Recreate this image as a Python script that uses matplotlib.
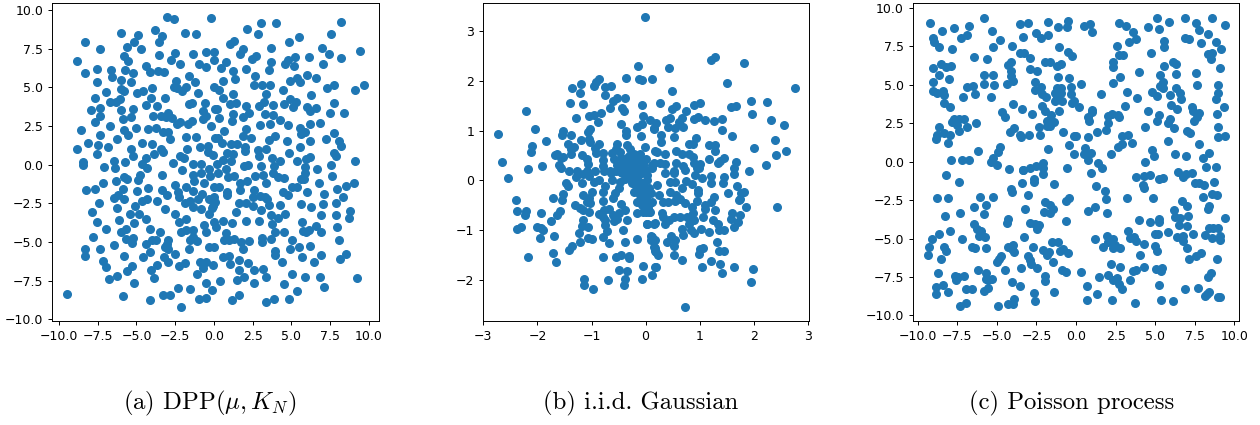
import matplotlib
matplotlib.use('Agg')
import matplotlib.pyplot as plt

# values
dpp_points = [
    (-3.03,9.53),(-2.56,9.40),(-0.22,9.46),(-6.0,8.53),(-4.9,8.36),(-3.83,8.71),(-3.33,8.30),(-3.55,7.93),
    (-1.85,8.49),(-1.16,8.45),(-8.34,7.97),(-5.14,7.91),(-5.59,7.61),(-7.33,7.48),(-4.69,7.46),(-8.82,6.72),
    (-5.81,7.03),(-5.53,6.72),(-3.53,7.13),(-2.54,7.22),(-1.33,7.18),(-0.54,7.31),(-0.02,7.31),(-2.75,6.75),
    (-2.19,6.53),(-0.95,6.53),(-0.52,6.34),(-0.02,6.75),(-4.39,6.40),(-8.34,5.95),(-7.53,6.19),(-6.62,6.10),
    (-6.58,5.65),(-5.72,6.10),(-5.25,5.95),(-4.11,5.99),(-3.59,6.08),(-3.23,6.03),(-1.63,5.75),(-6.0,5.47),
    (-7.57,5.32),(-5.35,5.37),(-2.43,5.41),(-1.25,5.37),(-2.58,5.06),(-1.81,5.04),(-0.02,5.04),(-2.37,4.94),
    (-2.04,4.78),(-6.99,4.72),(-5.98,4.89),(-5.81,4.78),(-4.58,4.78),(-4.95,4.63),(-4.0,4.96),(-1.03,4.61),
    (-7.70,4.35),(-4.06,4.31),(-3.14,4.35),(-6.73,4.09),(-6.32,4.09),(-6.04,4.27),(-1.63,3.94),(-1.4,3.97),
    (-0.58,3.97),(-4.41,3.88),(-3.68,3.77),(-7.33,3.69),(-7.94,3.51),(-6.0,3.51),(-5.2,3.6),(-0.71,3.45),
    (0.06,3.62),(-7.33,3.17),(-3.94,3.17),(-3.44,3.17),(-2.97,3.38),(-3.1,3.10),(-2.69,3.04),(-0.52,3.17),
    (-0.71,2.97),(-5.85,2.97),(-5.38,3.06),(-7.68,2.76),(-2.19,2.74),(-2.39,2.63),(-1.4,2.82),(-1.66,2.63),
    (-6.71,2.5),(-0.19,2.5),(-8.58,2.26),(-5.81,2.28),(-5.01,2.39),(-4.26,2.31),(-3.74,2.35),(-5.53,1.94),
    (-7.35,1.94),(-3.31,2.11),(-2.95,2.09),(-2.84,1.64),(-6.24,1.66),(-1.81,1.79),(-1.16,1.77),(0.06,1.72),
    (-8.11,1.42),(-7.51,1.31),(-6.84,1.16),(-4.65,1.40),(-3.98,1.36),(-8.82,0.99),(-5.38,1.01),(-3.44,1.01),
    (-3.27,0.82),(-1.76,1.03),(-0.92,1.12),(-0.41,1.21),(-0.37,0.84),(-0.09,0.63),(-5.25,0.56),(-7.55,0.67),
    (-4.37,0.43),(-3.87,0.69),(-2.19,0.54),(-1.91,0.43),(-8.47,0.15),(-8.45,-0.02),(-6.47,0.22),(-5.76,0.15),
    (-7.08,-0.13),(-4.65,0.06),(-2.67,0.11),(-1.33,0.04),(-0.82,0.04),(-6.38,-0.24),(-4.3,-0.24),(-2.09,-0.34),
    (-0.3,-0.3),(-4.8,-0.65),(-3.35,-0.65),(-1.33,-0.65),(-0.86,-0.52),(-0.26,-0.73),(-5.81,-0.82),(-5.64,-0.93),
    (-4.93,-0.99),(-6.32,-1.03),(-7.14,-1.21),(-1.27,-1.03),(-0.65,-1.16),(-2.54,-1.29),(-1.78,-1.44),(-4.24,-1.47),
    (-8.24,-1.64),(-7.66,-1.57),(-5.89,-1.57),(-4.97,-1.68),(-3.35,-1.64),(-1.33,-1.68),(-2.3,-1.79),(-3.05,-1.98),
    (-6.17,-1.96),(-0.75,-1.9),(-6.45,-2.13),(-5.78,-2.24),(-2.28,-2.11),(-4.65,-2.33),(-4.32,-2.22),(-0.32,-2.18),
    (-0.04,-2.28),(-7.42,-2.44),(-3.7,-2.37),(-1.85,-2.44),(-1.55,-2.37),(-1.38,-2.72),(-1.01,-2.24),(-5.12,-2.67),
    (-6.28,-2.82),(-3.14,-2.87),(-0.82,-2.89),(-0.04,-2.67),(-0.32,-3.15),(-7.89,-3.04),(-5.42,-3.17),(-4.82,-3.17),
    (-2.49,-3.19),(-4.37,-3.51),(-6.11,-3.58),(-1.78,-3.53),(-2.28,-3.71),(-7.53,-3.73),(-5.14,-3.75),(-0.67,-3.92),
    (-6.97,-4.12),(-5.67,-4.12),(-5.99,-4.33),(-4.13,-4.16),(-3.47,-4.33),(-2.11,-4.33),(-1.83,-4.22),(-1.33,-4.22),
    (-0.54,-4.35),(-7.78,-4.68),(-5.67,-4.81),(-5.2,-4.76),(-5.31,-5.04),(-4.02,-4.87),(-3.76,-4.87),(-2.95,-4.87),
    (-1.33,-4.7),(-1.55,-4.89),(-1.08,-4.94),(-6.45,-5.17),(-4.39,-5.13),(-3.02,-5.13),(-3.17,-5.34),(-2.95,-5.45),
    (-8.3,-5.43),(-7.33,-5.43),(-1.6,-5.43),(-0.32,-5.3),(0.0,-5.34),(-4.13,-5.63),(-2.54,-5.78),(-8.32,-5.9),
    (-5.81,-5.9),(-4.6,-5.99),(-3.2,-5.97),(-7.14,-6.23),(-2.97,-6.29),(-3.7,-6.47),(-2.24,-6.53),(-1.89,-6.38),
    (-6.99,-6.62),(-5.31,-6.53),(-0.9,-6.29),(-0.54,-6.27),(-0.71,-6.66),(-0.09,-6.49),(-4.09,-6.83),(-5.64,-6.87),
    (-1.08,-7.05),(-6.77,-7.37),(-6.24,-7.2),(-3.87,-7.31),(-5.14,-7.65),(-0.52,-7.65),(-2.34,-7.95),(-1.55,-8.04),
    (-0.11,-8.08),(-9.46,-8.34),(-5.85,-8.47),(-3.27,-8.45),(-2.84,-8.43),(-4.13,-8.73),(-0.99,-8.66),(-0.52,-8.64),
    (-2.15,-9.2),
    (3.01,9.16),(3.98,9.16),(8.17,9.25),(2.13,8.77),(2.82,8.47),(7.53,8.43),(5.48,8.28),(4.82,7.93),
    (1.31,8.02),(1.05,7.78),(9.42,7.37),(6.99,7.52),(7.42,7.18),(3.7,7.52),(1.89,7.46),(1.66,7.16),
    (2.71,7.05),(2.45,6.81),(5.23,6.98),(6.13,6.94),(8.17,6.92),(4.8,6.77),(4.56,6.49),(3.68,6.62),
    (5.18,6.38),(7.05,6.49),(0.8,6.62),(0.43,6.27),(1.23,6.08),(2.09,6.19),(3.57,6.1),(2.67,5.71),
    (1.38,5.56),(5.98,5.82),(5.35,5.63),(6.6,5.63),(4.9,5.41),(5.57,5.32),(0.6,5.41),(2.56,5.13),
    (3.12,5.13),(3.63,5.13),(0.32,4.83),(7.72,5.19),(7.29,4.96),(9.7,5.19),(9.12,4.83),(4.45,4.81),
    (1.23,4.57),(3.38,4.59),(6.24,4.5),(0.58,4.31),(3.2,4.09),(4.88,4.25),(5.27,4.07),(7.76,4.01),
    (4.54,3.9),(1.05,3.94),(1.44,3.97),(2.04,3.79),(2.9,3.77),(3.83,3.84),(5.12,3.71),(6.0,3.71),
    (6.22,3.47),(6.6,3.69),(0.22,3.62),(7.5,3.38),(8.41,3.32),(1.2,3.28),(2.28,3.34),(3.31,3.3),
    (3.83,3.25),(0.32,3.04),(1.85,3.08),(1.18,2.84),(4.26,2.89),(2.97,2.54),(3.63,2.63),(4.77,2.54),
    (6.17,2.63),(6.82,2.69),(2.06,2.33),(5.55,2.41),(0.65,2.2),(5.61,1.98),(5.87,2.11),(7.72,2.03),
    (1.85,1.85),(2.37,1.72),(3.91,1.85),(3.57,1.62),(7.2,1.66),(0.28,1.72),(0.54,1.44),(4.69,1.53),
    (6.19,1.53),(8.06,1.53),(8.17,1.19),(1.1,1.34),(1.51,1.34),(2.02,1.14),(2.02,0.88),(2.82,0.97),
    (3.33,1.03),(5.57,1.12),(0.82,0.73),(1.23,0.71),(2.92,0.56),(4.82,0.73),(7.76,0.75),(7.89,0.56),
    (0.6,0.32),(1.1,0.24),(0.17,0.06),(3.76,0.43),(4.28,0.26),(5.33,0.24),(5.92,0.39),(6.17,0.5),
    (9.08,0.22),(7.57,-0.02),(1.96,-0.09),(2.17,-0.04),(3.03,-0.06),(3.85,-0.11),(5.87,-0.13),(6.65,-0.26),
    (0.77,-0.3),
    (0.24,-0.56),(0.88,-0.78),(1.31,-0.73),(2.67,-0.73),(3.18,-0.69),(3.83,-0.52),(4.15,-0.82),(4.54,-0.84),
    (5.87,-0.56),(5.61,-0.93),(5.8,-0.91),(7.59,-0.71),(2.15,-1.06),(3.35,-1.16),(1.68,-1.16),(6.77,-1.19),
    (9.03,-1.16),(8.49,-1.38),(5.05,-1.42),(5.35,-1.42),(7.91,-1.55),(0.02,-1.42),(0.32,-1.42),(1.66,-1.64),
    (2.58,-1.62),(4.47,-1.79),(4.8,-1.94),(6.02,-1.79),(7.1,-1.9),(0.82,-1.79),(0.82,-1.96),(0.02,-2.09),
    (2.54,-2.11),(2.97,-2.03),(3.29,-2.07),(8.34,-2.11),(0.06,-2.39),(3.44,-2.18),(1.63,-2.44),(2.04,-2.5),
    (2.49,-2.67),(3.55,-2.61),(4.26,-2.61),(5.61,-2.54),(7.01,-2.56),(7.87,-2.46),(6.26,-2.74),(-0.11,-2.78),
    (3.03,-2.91),(1.42,-3.04),(4.6,-3.19),(3.66,-3.25),(4.15,-3.41),(6.9,-3.23),(7.89,-3.25),(8.8,-3.02),
    (8.69,-3.41),(0.6,-3.62),(0.02,-3.71),(1.16,-3.75),(2.04,-3.66),(2.92,-3.66),(3.74,-3.84),(5.7,-3.69),
    (0.13,-4.05),(6.58,-3.97),(7.96,-4.01),(0.75,-4.4),(3.91,-4.33),(4.52,-4.37),(5.74,-4.29),(5.94,-4.37),
    (6.13,-4.2),(6.92,-4.33),(3.1,-4.74),(3.08,-5.02),(3.68,-4.78),(0.62,-4.89),(0.97,-4.89),(1.31,-4.83),
    (1.74,-5.0),(2.24,-4.96),(5.05,-4.87),(8.09,-4.85),(1.89,-5.45),(4.88,-5.43),(5.51,-5.34),(6.22,-5.28),
    (3.91,-5.56),(3.96,-5.84),(8.54,-5.78),(6.9,-5.86),(5.66,-5.95),(0.56,-5.97),(0.97,-5.88),(8.13,-6.12),
    (1.59,-6.14),(4.39,-6.29),(6.43,-6.29),(2.17,-6.36),(1.03,-6.42),(1.61,-6.83),(2.6,-6.83),(3.16,-6.77),
    (5.03,-7.07),(6.84,-7.24),(1.94,-7.24),(3.35,-7.28),(5.85,-7.26),(9.23,-7.31),(0.37,-7.54),(1.46,-7.48),
    (2.6,-7.63),(4.52,-7.69),(7.1,-7.87),(5.33,-8.15),(1.59,-8.4),(1.16,-8.71),(3.89,-8.66),(4.82,-8.69),
    (3.38,-8.84),
]

gaussian_points = [
    (-0.02,3.28),(-0.14,2.3),(-0.36,2.07),(-0.12,2.05),(-0.07,2.03),(0.11,2.04),(-0.86,2.05),(-0.91,1.97),
    (-0.95,1.89),(-1.2,1.93),(-1.36,1.86),(-1.22,1.75),(-0.75,1.87),(-0.64,1.89),(-0.75,1.72),(-0.53,1.65),
    (-0.6,1.59),(-0.39,1.66),(-1.39,1.56),(-1.15,1.54),(-0.66,1.45),(-0.43,1.45),(-0.4,1.4),(-0.07,1.51),
    (-2.22,1.4),(-0.83,1.36),(-1.05,1.3),(-0.96,1.32),(-1.28,1.26),(-0.05,1.3),(-0.88,1.18),(0.09,1.21),
    (-0.46,1.13),(-0.06,1.13),(-0.15,1.08),(0.16,1.05),(-2.05,1.04),(-1.02,1.03),(-1.52,0.99),(-1.06,0.97),
    (-0.37,1.0),(-0.37,0.91),(-2.73,0.93),(-1.54,0.91),(-1.38,0.92),(-0.09,0.89),(-1.04,0.83),(-1.2,0.81),
    (-1.02,0.78),(-1.85,0.79),(-2.1,0.7),(-1.43,0.74),(-1.33,0.68),(-0.87,0.73),(-0.93,0.66),(-0.92,0.56),
    (-2.12,0.58),(-1.38,0.64),(-0.52,0.74),(-0.35,0.71),(-0.01,0.68),(-0.55,0.64),(-0.28,0.64),(-0.62,0.56),
    (-0.47,0.58),(-0.78,0.56),(0.17,0.59),(-1.38,0.54),(-1.64,0.54),(-1.68,0.51),(-1.53,0.48),(-1.56,0.46),
    (-1.17,0.52),(-0.22,0.54),(-0.1,0.53),(-0.59,0.44),(-0.35,0.46),(-0.16,0.44),(0.01,0.43),(-1.08,0.43),
    (-2.66,0.36),(-1.06,0.32),(-0.79,0.41),(-0.04,0.34),(-0.41,0.34),(-0.28,0.34),(-1.92,0.28),(-1.6,0.3),
    (-0.78,0.28),(-2.18,0.23),(-0.47,0.26),(-0.34,0.26),(-0.19,0.28),(0.12,0.3),(-1.57,0.24),(-1.41,0.19),
    (-1.27,0.19),(-1.08,0.19),(-0.94,0.19),(-0.76,0.19),(-0.65,0.19),(-0.45,0.17),
    (-2.55,0.05),(-1.28,0.07),(-1.15,0.13),(-1.05,0.09),(-0.87,0.01),(-0.96,-0.03),(-1.18,-0.06),(-1.47,-0.06),
    (-1.43,-0.11),(-0.75,-0.11),(-0.64,0.14),(-0.62,0.01),(-0.47,-0.03),(-0.5,-0.16),(-0.56,-0.26),(-0.99,-0.23),
    (-1.52,-0.28),(-1.71,-0.35),(-1.16,-0.3),(-1.05,-0.35),(-0.78,-0.24),(-1.55,-0.4),(-2.39,-0.39),(-0.78,-0.41),
    (-0.6,-0.36),(-1.09,-0.43),(-1.31,-0.49),(-1.02,-0.46),(-0.45,-0.48),(-1.21,-0.56),(-0.39,-0.6),(-2.38,-0.61),
    (-2.21,-0.61),(-1.94,-0.65),(-1.58,-0.62),(-1.15,-0.6),(-1.05,-0.64),(-0.76,-0.6),(-0.68,-0.58),(-2.23,-0.7),
    (-1.63,-0.7),(-0.87,-0.68),(-0.78,-0.73),(-0.6,-0.7),(-0.5,-0.66),(-0.16,-0.65),(-0.04,-0.63),(0.09,-0.63),
    (-1.75,-0.81),(-1.15,-0.79),(-0.75,-0.8),(-0.59,-0.82),(-0.35,-0.79),(-0.53,-0.77),(0.02,-0.87),(0.16,-0.87),
    (-2.38,-0.97),(-2.3,-0.93),(-2.01,-0.93),(-1.93,-0.96),(-1.89,-1.0),(-1.18,-0.92),(-1.07,-0.93),(-0.75,-0.9),
    (-1.24,-1.05),(-0.72,-1.02),(-0.41,-0.99),(-1.95,-1.15),(-1.69,-1.12),(-1.07,-1.16),(-1.0,-1.18),(-0.78,-1.13),
    (-0.16,-1.17),(0.1,-1.12),(0.1,-1.2),(-1.21,-1.25),(-0.67,-1.26),(-0.38,-1.24),(-1.36,-1.32),(-1.42,-1.41),
    (0.16,-1.35),(0.18,-1.42),(-1.72,-1.47),(-2.17,-1.54),(-0.79,-1.54),(-0.55,-1.54),(-0.45,-1.51),(-0.3,-1.52),
    (-0.3,-1.56),(-1.66,-1.64),(-0.49,-1.81),(-0.35,-1.83),(-0.05,-1.73),(0.18,-1.74),(0.12,-1.9),(-1.14,-1.99),
    (-0.7,-2.01),(-0.39,-1.99),(-0.06,-1.99),(-1.13,-2.11),(-0.4,-2.11),(-0.98,-2.19),
    (-0.41,0.21),(-0.28,0.14),(-0.16,0.04),(-0.04,-0.06),(-0.22,-0.23),(-0.1,-0.3),(0.02,-0.26),(-0.25,-0.06),
    (-0.04,-0.43),(-0.16,-0.43),(0.09,-0.46),(-0.44,0.14),
    (-0.3,0.5),(-0.2,0.42),(-0.25,0.25),(-0.12,0.18),(-0.3,0.06),(-0.38,0.03),(-0.1,0.12),(-0.2,0.1),
    (-0.18,-0.12),(-0.08,-0.16),(-0.02,-0.18),(-0.12,-0.05),(-0.33,0.42),(-0.45,0.45),(-0.52,0.3),(-0.55,0.18),
    (0.0,0.2),(0.03,0.0),(0.0,-0.35),(-0.06,-0.5),(0.1,-0.25),(0.05,-0.55),
    (1.29,2.48),(1.2,2.42),(1.82,2.37),(0.43,2.26),(1.51,1.95),(0.49,1.8),(2.76,1.85),(1.95,1.6),
    (2.24,1.57),(0.27,1.56),(1.01,1.56),(0.89,1.51),(0.57,1.49),(0.48,1.43),(1.57,1.48),(1.67,1.49),
    (1.96,1.34),(0.75,1.39),(2.32,1.22),(2.56,1.12),(0.67,1.26),(0.61,1.18),(0.45,1.26),(0.37,1.21),
    (0.2,1.16),(0.15,1.03),(0.41,1.07),(0.54,1.05),(0.7,1.07),(0.9,1.24),(0.96,1.27),(1.1,1.21),
    (1.27,1.19),(1.42,1.24),(1.41,1.01),(1.59,0.89),(2.39,0.82),(0.28,0.91),(0.52,0.87),(0.93,0.85),
    (0.28,0.78),(0.8,0.74),(0.88,0.74),(1.17,0.71),(1.28,0.71),(1.29,0.6),(2.01,0.65),(2.6,0.6),
    (2.41,0.52),(0.21,0.58),(0.36,0.53),(0.56,0.6),(0.67,0.54),(0.8,0.54),(0.87,0.48),(1.18,0.43),
    (1.44,0.46),(1.38,0.39),(1.33,0.34),(1.67,0.38),(2.23,0.3),(1.63,0.24),(1.92,0.18),(0.15,0.34),
    (0.27,0.34),(0.35,0.32),(0.57,0.34),(0.69,0.28),(0.89,0.34),(1.01,0.33),(0.95,0.24),(-0.04,0.41),
    (-0.04,0.31),(0.12,0.24),(0.52,0.19),(0.73,0.21),
    (1.64,0.12),(1.44,0.07),(1.43,-0.06),(1.69,-0.11),(1.2,0.09),(1.21,-0.06),(0.98,0.24),(0.92,0.11),
    (1.04,0.04),(0.75,-0.01),(0.86,-0.08),(0.52,0.14),(0.36,0.14),(0.46,-0.03),(0.55,-0.03),(0.21,-0.09),
    (0.24,-0.3),(0.02,0.11),(-0.04,-0.06),(0.06,-0.16),(-0.07,-0.26),(0.12,-0.43),(-0.02,-0.43),(0.46,-0.23),
    (0.67,-0.16),(0.57,-0.3),(0.96,-0.19),(0.96,-0.26),(1.53,-0.25),(1.81,-0.23),(1.77,-0.25),(1.75,-0.37),
    (1.72,-0.4),(1.27,-0.34),(1.2,-0.43),(0.95,-0.41),(0.32,-0.44),(0.42,-0.43),(0.55,-0.41),(0.64,-0.38),
    (0.73,-0.46),(0.86,-0.53),(1.1,-0.5),(1.09,-0.58),(1.28,-0.6),(1.86,-0.54),(2.43,-0.54),(0.0,-0.63),
    (0.3,-0.66),(0.06,-0.63),(1.6,-0.65),(1.75,-0.7),(1.58,-0.77),(0.88,-0.66),(1.07,-0.74),(0.33,-0.73),
    (0.43,-0.8),(0.52,-0.74),(0.64,-0.73),(0.77,-0.74),(0.89,-0.8),(1.24,-0.8),(1.33,-0.88),(1.7,-0.83),
    (1.63,-0.93),(0.02,-0.87),(0.17,-0.85),(0.36,-0.88),(0.8,-0.87),(0.67,-0.98),(0.83,-0.99),(1.03,-0.97),
    (1.17,-1.03),(1.35,-1.0),(1.44,-1.0),(0.7,-1.1),(0.89,-1.05),(0.12,-1.13),(0.18,-1.19),(0.47,-1.12),
    (0.55,-1.2),(0.39,-1.23),(0.53,-1.32),(1.32,-1.25),(1.07,-1.36),(1.0,-1.39),(0.98,-1.48),(1.35,-1.42),
    (1.44,-1.42),(0.18,-1.37),(0.2,-1.44),(0.23,-1.5),(0.53,-1.51),(0.67,-1.6),(1.2,-1.63),(1.38,-1.69),
    (0.2,-1.74),(1.05,-1.75),(1.64,-1.75),(1.99,-1.79),(1.41,-1.86),(1.94,-2.05),(0.72,-2.55),
]

poisson_points = [
    (-5.83,9.35),(-9.24,9.0),(-8.46,8.53),(-7.71,8.68),(-6.76,8.83),(-5.33,8.51),(-3.54,8.96),(-3.05,9.0),
    (-1.75,9.09),(-1.16,8.74),(-0.48,9.16),(-0.55,8.79),(-2.55,8.4),(-1.79,8.25),(-2.19,8.03),(-3.37,8.1),
    (-6.91,8.25),(-7.24,8.03),(-9.03,8.07),(-8.99,7.81),(-8.67,7.47),(-7.81,7.36),(-5.26,7.49),(-4.78,7.92),
    (-4.06,7.53),(-1.05,7.49),(-0.48,7.12),(-0.25,6.9),(-3.56,7.06),(-3.26,7.06),(-2.93,6.77),(-6.44,6.8),
    (-5.64,6.67),(-8.55,6.34),(-8.23,6.19),(-7.87,6.26),(-9.01,6.1),(-8.63,5.67),(-1.96,6.52),(-1.62,6.47),
    (-1.22,6.23),(-0.95,6.36),(-4.13,6.47),(-4.32,6.3),(-2.91,6.06),(-2.46,5.91),(-4.13,5.91),(-4.13,5.58),
    (-5.79,5.67),(-5.24,5.63),(-1.14,5.5),(-0.46,5.45),(-8.0,5.37),(-4.0,5.26),(-4.34,5.04),(-9.05,5.17),
    (-5.79,5.06),(-5.18,4.98),(-2.57,5.17),(-6.88,4.87),(-6.53,4.91),(-2.23,4.85),(-0.32,4.89),(-9.05,4.61),
    (-8.8,4.48),(-8.42,4.57),(-2.59,4.65),(-1.22,4.78),(-0.95,4.78),(-6.36,4.42),(-8.36,4.31),(-7.12,4.24),
    (-5.37,4.24),(-2.17,4.42),(-1.92,4.22),(-1.33,4.46),(-1.22,4.2),(-0.97,4.46),(-0.34,4.39),(-8.32,3.79),
    (-7.96,3.53),(-4.0,3.77),(-1.33,3.92),(-0.91,3.92),(-0.27,3.81),(-2.13,3.61),(-3.41,3.46),(-1.96,3.31),
    (-1.09,3.31),(-4.69,3.25),(-4.48,2.94),(-2.78,3.12),(-1.58,3.05),(-7.71,2.77),(-7.37,2.81),(-7.05,2.79),
    (-7.81,2.58),(-7.54,2.4),(-6.32,2.53),(-1.85,2.68),(-1.37,2.58),(-8.63,2.25),(-6.91,2.29),(-7.39,2.01),
    (-1.85,2.34),(-1.64,2.34),(-2.32,2.29),(-3.89,2.19),(-4.19,1.93),(-8.32,1.9),(-8.76,1.71),(-8.84,1.47),
    (-7.94,1.77),(-3.54,1.75),(-3.47,1.6),(-2.95,1.75),(-2.25,1.77),(-0.84,1.95),(-0.11,1.69),(-8.08,1.21),
    (-0.44,1.1),(-4.8,0.93),(-1.75,0.8),(-4.91,0.61),(-6.21,0.67),(-0.11,0.48),(-5.22,0.24),(-7.89,0.09),
    (-7.18,0.09),(-6.74,0.13),(-5.37,-0.04),(-5.01,-0.22),(-2.11,-0.06),(-4.23,-0.45),(-3.33,-0.52),(-2.91,-0.41),
    (-2.55,-0.3),(-2.11,-0.41),(-0.59,-0.41),
    (-3.37,-0.56),(-2.11,-0.8),(-8.23,-0.89),(-7.37,-1.32),(-3.39,-1.39),(-2.65,-1.1),(-2.65,-1.34),(-1.37,-1.45),
    (-4.13,-1.77),(-4.04,-1.95),(-3.05,-2.19),(-8.8,-2.38),(-8.06,-2.38),(-6.06,-2.29),(-5.26,-2.29),(-1.96,-2.6),
    (-5.68,-2.84),(-6.44,-2.92),(-3.22,-3.07),(-0.63,-2.53),(-0.44,-2.36),(-1.64,-2.79),(-1.43,-3.07),(-1.64,-3.33),
    (-2.04,-3.29),(-8.27,-3.51),(-7.35,-3.35),(-5.83,-3.42),(-4.32,-3.72),(-4.36,-3.98),(-0.63,-3.87),(-2.91,-3.98),
    (-2.59,-4.03),(-2.36,-4.09),(-2.44,-4.35),(-6.44,-4.03),(-6.23,-4.35),(-6.02,-4.52),(-7.98,-4.5),(-8.67,-4.68),
    (-6.15,-4.85),(-5.75,-4.91),(-3.26,-4.87),(-9.07,-5.02),(-7.22,-5.02),(-1.54,-5.24),(-1.12,-5.26),(-9.26,-5.58),
    (-8.32,-5.54),(-6.59,-5.58),(-6.36,-5.65),(-5.68,-5.65),(-4.27,-5.58),(-3.96,-5.41),(-2.72,-5.58),(-2.11,-5.76),
    (-0.8,-5.67),(-4.06,-5.71),(-8.23,-5.82),(-3.91,-5.89),(-1.71,-5.89),(-1.01,-5.84),(-0.48,-5.95),(-9.33,-6.06),
    (-1.85,-6.1),(-3.01,-6.17),(-4.74,-6.17),(-8.51,-6.32),(-2.9,-6.43),(-4.86,-6.36),(-5.01,-6.56),(-1.43,-6.56),
    (-2.86,-6.65),(-2.46,-6.93),(-3.45,-6.91),(-4.48,-7.06),(-6.17,-7.08),(-5.68,-7.23),(-0.91,-7.08),(-0.65,-7.19),
    (-8.74,-7.23),(-7.07,-7.45),(-7.43,-7.49),(-7.62,-7.45),(-7.58,-7.71),(-1.94,-7.45),(-1.94,-7.75),(-5.68,-7.66),
    (-5.31,-7.62),(-5.54,-7.71),(-4.02,-7.81),(-3.52,-8.1),(-8.84,-8.18),(-8.4,-8.03),(-6.95,-8.29),(-6.57,-8.31),
    (-5.54,-8.25),(-5.81,-8.4),(-8.86,-8.64),(-8.11,-8.51),(-2.67,-8.55),(-1.37,-8.48),(-3.92,-8.94),(-2.59,-9.07),
    (-6.95,-9.18),(-7.33,-9.37),(-4.32,-9.24),(-3.96,-9.29),(-4.93,-9.42),
    (0.48,8.85),(0.88,8.98),(0.99,8.44),(2.74,9.03),(3.14,8.85),(3.62,8.46),(3.81,7.99),(3.35,7.79),
    (4.53,8.74),(5.14,9.33),(5.22,8.66),(5.87,9.09),(6.88,9.33),(7.56,9.0),(7.79,8.57),(8.32,8.33),
    (8.57,9.37),(9.39,8.9),(5.56,7.84),(5.56,7.49),(6.88,8.03),(7.14,7.97),(7.92,7.71),(8.82,7.77),
    (9.18,7.32),(2.59,7.55),(2.72,6.95),(2.99,6.95),(4.76,7.06),(8.36,7.01),(8.61,7.06),(8.51,6.67),
    (2.36,6.49),(2.32,6.19),(6.15,6.52),(6.3,6.34),(5.54,6.21),(4.0,5.87),(9.12,6.08),(5.31,5.67),
    (6.32,5.69),(7.56,5.76),(2.8,5.5),(0.29,5.06),(2.36,5.11),(5.52,5.17),(5.31,4.94),(5.52,4.78),
    (7.64,5.02),(8.95,4.98),(3.22,4.55),(1.6,4.42),(4.82,4.55),(5.14,4.29),(5.92,4.35),(6.3,4.78),
    (6.57,4.46),(6.61,4.09),(8.99,4.46),(8.82,4.09),(3.87,4.13),(-0.11,3.98),(0.21,3.55),(1.01,3.39),
    (1.01,3.22),(3.07,3.62),(6.0,3.66),(6.38,3.42),(7.31,3.53),(9.37,3.53),(4.53,3.31),(8.93,3.12),
    (7.41,3.27),(7.77,3.16),(7.62,2.94),(7.45,2.62),(0.78,2.92),(0.82,2.62),(2.0,2.99),(2.25,3.1),
    (2.67,3.05),(2.74,2.92),(2.04,2.55),(5.26,3.01),(5.12,2.62),(5.96,2.81),(5.83,2.51),(4.38,2.29),
    (6.19,2.19),(8.95,2.29),(1.35,1.95),(1.89,2.06),(-0.02,1.67),(7.01,1.99),(7.22,1.9),(0.78,1.58),
    (2.93,1.69),(3.28,1.77),(8.99,1.6),(9.41,1.65),(2.88,1.17),(2.63,0.95),(3.54,1.19),(5.81,1.36),
    (7.75,1.17),(0.57,0.87),(0.48,0.52),(0.97,0.56),(0.74,0.13),(2.19,0.52),(4.78,0.78),(4.91,0.39),
    (6.25,0.52),(6.93,0.35),(8.42,0.54),(8.04,0.26),(4.36,0.0),(1.37,-0.09),(1.62,-0.41),(8.21,-0.37),
    (8.82,-0.35),
    (0.95,-0.71),(3.81,-1.02),(4.32,-0.91),(4.67,-0.89),(6.42,-0.69),(5.26,-1.1),(5.52,-1.06),(6.78,-1.0),
    (6.93,-0.78),(7.35,-0.76),(8.72,-1.34),(7.52,-1.39),(7.79,-1.39),(8.06,-1.49),(1.28,-1.6),(4.23,-1.49),
    (4.27,-1.71),(1.81,-1.9),(8.57,-2.12),(8.91,-2.19),(8.04,-2.27),(3.24,-2.36),(4.86,-2.34),(1.92,-2.42),
    (6.72,-2.58),(7.01,-2.9),(8.42,-2.9),(8.36,-3.05),(6.17,-3.12),(1.22,-2.94),(0.78,-3.22),(1.94,-3.35),
    (7.05,-3.53),(6.25,-3.59),(6.55,-3.66),(9.41,-3.68),(4.0,-3.77),(4.69,-3.94),(5.22,-3.72),(5.22,-3.92),
    (6.51,-4.13),(7.01,-4.16),(8.4,-4.29),(8.67,-4.29),(8.99,-4.33),(3.26,-4.48),(5.79,-4.59),(4.97,-4.72),
    (5.16,-4.72),(7.37,-4.72),(8.15,-4.78),(1.98,-4.81),(9.09,-4.81),(3.43,-4.94),(3.66,-4.89),(6.36,-4.91),
    (6.78,-4.85),(8.61,-4.96),(1.2,-5.04),(2.32,-5.0),(2.0,-5.22),(3.79,-5.17),(6.74,-5.13),(9.09,-5.08),
    (4.32,-5.37),(4.97,-5.48),(2.46,-5.45),(1.68,-5.54),(2.78,-5.61),(2.36,-5.61),(7.01,-5.61),(5.09,-5.84),
    (4.02,-6.1),(7.87,-5.95),(7.58,-6.15),(7.14,-6.36),(8.88,-6.36),(2.21,-6.69),(2.76,-6.86),(4.32,-6.88),
    (5.07,-6.97),(5.45,-6.95),(5.37,-7.12),(3.81,-7.06),(3.58,-7.14),(0.29,-7.16),(8.51,-7.23),(8.36,-7.51),
    (2.02,-7.38),(1.47,-7.53),(2.61,-7.58),(2.36,-7.68),(3.43,-7.73),(2.74,-7.99),(2.88,-8.31),(0.69,-8.1),
    (5.24,-8.05),(6.91,-8.27),(7.71,-8.22),(8.42,-8.48),(8.25,-8.59),(8.15,-8.72),(8.99,-8.79),(9.12,-8.81),
    (1.33,-8.61),(0.67,-9.03),(2.29,-9.0),(3.73,-9.18),(5.37,-9.0),(6.11,-9.09),
]

captions = [r'(a) DPP$(\mu, K_N)$', '(b) i.i.d. Gaussian', '(c) Poisson process']
panels = [dpp_points, gaussian_points, poisson_points]

wide_ticks = [-10.0, -7.5, -5.0, -2.5, 0.0, 2.5, 5.0, 7.5, 10.0]
gauss_xticks = [-3, -2, -1, 0, 1, 2, 3]
gauss_yticks = [-2, -1, 0, 1, 2, 3]
xticks = [wide_ticks, gauss_xticks, wide_ticks]
yticks = [wide_ticks, gauss_yticks, wide_ticks]

W, H = 1260, 425
boxes = [(52.3, 379), (483.3, 809), (913, 1239)]
limits = [((-10.43, 10.65), (-10.1, 10.46)),
          ((-3.0, 3.02), (-2.83, 3.57)),
          ((-10.3, 10.3), (-10.37, 10.33))]
caption_x = [210, 641, 1072]

plt.rcParams['font.size'] = 9
plt.rcParams['mathtext.fontset'] = 'cm'
plt.rcParams['axes.linewidth'] = 0.7
plt.rcParams['xtick.major.width'] = 0.7
plt.rcParams['ytick.major.width'] = 0.7
plt.rcParams['xtick.major.size'] = 3
plt.rcParams['ytick.major.size'] = 3

fig = plt.figure(figsize=(W / 100, H / 100), dpi=100)
for i, pts in enumerate(panels):
    box = boxes[i]
    ax = fig.add_axes([box[0] / W, 1 - 321 / H, (box[1] - box[0]) / W, 318 / H])
    xs = [p[0] for p in pts]
    ys = [p[1] for p in pts]
    ax.scatter(xs, ys, s=30, color='#1f77b4')
    ax.set_xticks(xticks[i])
    ax.set_yticks(yticks[i])
    ax.set_xlim(limits[i][0])
    ax.set_ylim(limits[i][1])
    fig.text(caption_x[i] / W, 1 - 403 / H, captions[i], ha='center', va='center',
             family='cmr10', fontsize=17.8)

fig.savefig('out.png', dpi=100)
